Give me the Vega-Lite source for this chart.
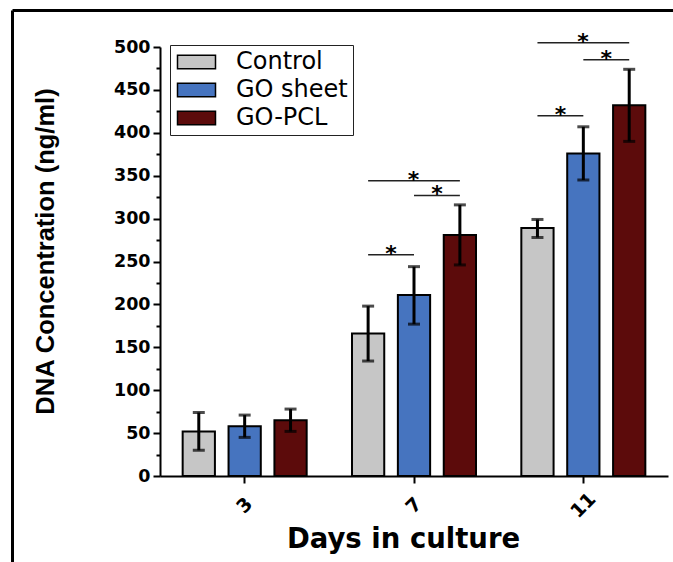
{
  "$schema": "https://vega.github.io/schema/vega-lite/v6.json",
  "width": 661,
  "height": 552,
  "autosize": {"type": "none"},
  "padding": {"left": 12, "top": 10, "right": 0, "bottom": 0},
  "background": "white",
  "view": {"stroke": null},
  "datasets": {
    "dna": [
      {"day": "3", "group": "Control", "mean": 52, "lo": 30, "hi": 74},
      {"day": "3", "group": "GO sheet", "mean": 58, "lo": 45, "hi": 71},
      {"day": "3", "group": "GO-PCL", "mean": 65, "lo": 52, "hi": 78},
      {"day": "7", "group": "Control", "mean": 166, "lo": 134, "hi": 198},
      {"day": "7", "group": "GO sheet", "mean": 211, "lo": 177, "hi": 244},
      {"day": "7", "group": "GO-PCL", "mean": 281, "lo": 246, "hi": 316},
      {"day": "11", "group": "Control", "mean": 289, "lo": 278, "hi": 299},
      {"day": "11", "group": "GO sheet", "mean": 376, "lo": 345, "hi": 407},
      {"day": "11", "group": "GO-PCL", "mean": 432, "lo": 390, "hi": 474}
    ],
    "sig": [
      {"day": "7", "a": "Control", "b": "GO sheet", "level": 258, "span": "adjacent"},
      {"day": "7", "a": "GO sheet", "b": "GO-PCL", "level": 327, "span": "adjacent"},
      {"day": "7", "a": "Control", "b": "GO-PCL", "level": 344, "span": "wide"},
      {"day": "11", "a": "Control", "b": "GO sheet", "level": 420, "span": "adjacent"},
      {"day": "11", "a": "GO sheet", "b": "GO-PCL", "level": 485, "span": "adjacent"},
      {"day": "11", "a": "Control", "b": "GO-PCL", "level": 505, "span": "wide"}
    ]
  },
  "resolve": {"scale": {"x": "independent", "y": "independent"}},
  "layer": [
    {
      "resolve": {"axis": {"y": "independent"}},
      "layer": [
        {
          "data": {"name": "dna"},
          "mark": {"type": "bar", "stroke": "black", "strokeWidth": 2},
          "encoding": {
            "x": {
              "field": "day", "type": "nominal",
              "scale": {"domain": ["3", "7", "11"], "range": [148, 656], "paddingInner": 0, "paddingOuter": 0},
              "axis": {
                "orient": "bottom", "offset": -86,
                "domainColor": "black", "domainWidth": 2,
                "tickColor": "black", "tickWidth": 2, "tickSize": 7,
                "labelAngle": -45, "labelAlign": "center", "labelBaseline": "middle", "labelPadding": 22,
                "labelFont": "DejaVu Sans", "labelFontWeight": "bold", "labelFontSize": 19, "labelColor": "black",
                "title": "Days in culture", "titleFont": "DejaVu Sans", "titleFontWeight": "bold",
                "titleFontSize": 27.5, "titleColor": "black", "titlePadding": 4, "titleX": 391
              }
            },
            "xOffset": {
              "field": "group", "type": "nominal",
              "scale": {"domain": ["Control", "GO sheet", "GO-PCL"], "paddingInner": 0.297, "paddingOuter": 0.494}
            },
            "y": {
              "field": "mean", "type": "quantitative",
              "scale": {"domain": [0, 500], "range": [466, 37], "nice": false},
              "axis": {
                "orient": "left", "offset": -148, "grid": false,
                "values": [0, 50, 100, 150, 200, 250, 300, 350, 400, 450, 500],
                "domainColor": "black", "domainWidth": 2,
                "tickColor": "black", "tickWidth": 2, "tickSize": 7,
                "labelFont": "DejaVu Sans", "labelFontWeight": "bold", "labelFontSize": 17.5,
                "labelColor": "black", "labelPadding": 3,
                "title": "DNA Concentration (ng/ml)", "titleFont": "Liberation Sans", "titleFontWeight": "bold",
                "titleFontSize": 25.5, "titleColor": "black", "titlePadding": 55, "titleY": 241
              }
            },
            "color": {
              "field": "group", "type": "nominal",
              "scale": {"domain": ["Control", "GO sheet", "GO-PCL"], "range": ["#c6c6c6", "#4674bf", "#5c0b0b"]},
              "legend": {
                "orient": "none", "legendX": 158, "legendY": 35, "title": null,
                "strokeColor": "#222222", "padding": 5, "rowPadding": 4,
                "symbolType": "M-1,-0.7H3V0.7H-1Z", "symbolSize": 361,
                "symbolStrokeColor": "black", "symbolStrokeWidth": 1.5, "symbolOpacity": 1,
                "labelFont": "DejaVu Sans", "labelFontSize": 24, "labelColor": "black", "labelOffset": 37
              }
            }
          }
        },
        {
          "data": {"name": "dna"},
          "mark": {"type": "rule", "color": "black", "strokeWidth": 3},
          "encoding": {
            "x": {"field": "day", "type": "nominal", "scale": {"domain": ["3", "7", "11"]}},
            "xOffset": {"field": "group", "type": "nominal", "scale": {"domain": ["Control", "GO sheet", "GO-PCL"]}},
            "y": {
              "field": "lo", "type": "quantitative",
              "axis": {
                "orient": "left", "offset": -148, "grid": false, "domain": false, "labels": false, "title": null,
                "values": [25, 75, 125, 175, 225, 275, 325, 375, 425, 475],
                "tickColor": "black", "tickWidth": 2, "tickSize": 4
              }
            },
            "y2": {"field": "hi"}
          }
        },
        {
          "data": {"name": "dna"},
          "mark": {"type": "tick", "color": "black", "thickness": 3, "size": 12, "orient": "horizontal"},
          "encoding": {
            "x": {"field": "day", "type": "nominal", "scale": {"domain": ["3", "7", "11"]}},
            "xOffset": {"field": "group", "type": "nominal", "scale": {"domain": ["Control", "GO sheet", "GO-PCL"]}},
            "y": {"field": "hi", "type": "quantitative", "axis": null}
          }
        },
        {
          "data": {"name": "dna"},
          "mark": {"type": "tick", "color": "black", "thickness": 3, "size": 12, "orient": "horizontal"},
          "encoding": {
            "x": {"field": "day", "type": "nominal", "scale": {"domain": ["3", "7", "11"]}},
            "xOffset": {"field": "group", "type": "nominal", "scale": {"domain": ["Control", "GO sheet", "GO-PCL"]}},
            "y": {"field": "lo", "type": "quantitative", "axis": null}
          }
        },
        {
          "data": {"name": "sig"},
          "transform": [{"fold": ["a", "b"], "as": ["end", "group"]}],
          "mark": {"type": "line", "color": "#222222", "strokeWidth": 1.5},
          "encoding": {
            "x": {"field": "day", "type": "nominal", "scale": {"domain": ["3", "7", "11"]}},
            "xOffset": {"field": "group", "type": "nominal", "scale": {"domain": ["Control", "GO sheet", "GO-PCL"]}},
            "y": {"field": "level", "type": "quantitative", "axis": null},
            "detail": {"field": "level", "type": "nominal"}
          }
        },
        {
          "data": {"name": "sig"},
          "transform": [{"filter": "datum.span === 'adjacent'"}],
          "mark": {"type": "text", "text": "*", "font": "DejaVu Sans", "fontWeight": "bold", "fontSize": 22, "color": "black", "dx": 23, "dy": 6, "baseline": "alphabetic"},
          "encoding": {
            "x": {"field": "day", "type": "nominal", "scale": {"domain": ["3", "7", "11"]}},
            "xOffset": {"field": "a", "type": "nominal", "scale": {"domain": ["Control", "GO sheet", "GO-PCL"]}},
            "y": {"field": "level", "type": "quantitative", "axis": null}
          }
        },
        {
          "data": {"name": "sig"},
          "transform": [{"filter": "datum.span === 'wide'"}],
          "mark": {"type": "text", "text": "*", "font": "DejaVu Sans", "fontWeight": "bold", "fontSize": 22, "color": "black", "dx": 45.5, "dy": 6, "baseline": "alphabetic"},
          "encoding": {
            "x": {"field": "day", "type": "nominal", "scale": {"domain": ["3", "7", "11"]}},
            "xOffset": {"field": "a", "type": "nominal", "scale": {"domain": ["Control", "GO sheet", "GO-PCL"]}},
            "y": {"field": "level", "type": "quantitative", "axis": null}
          }
        }
      ]
    },
    {
      "data": {"name": "dna"},
      "mark": {"type": "point", "opacity": 0},
      "encoding": {
        "x": {
          "field": "mean", "type": "quantitative", "scale": {"range": [0, 680]},
          "axis": {"orient": "top", "ticks": false, "labels": false, "grid": false, "title": null, "domainColor": "black", "domainWidth": 3}
        },
        "y": {
          "field": "mean", "type": "quantitative", "scale": {"range": [600, 0]},
          "axis": {"orient": "left", "ticks": false, "labels": false, "grid": false, "title": null, "domainColor": "black", "domainWidth": 3}
        }
      }
    }
  ]
}
